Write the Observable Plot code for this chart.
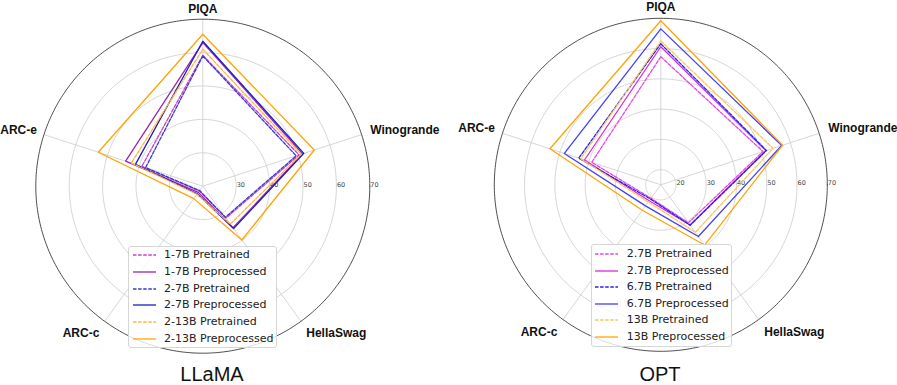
<!DOCTYPE html>
<html><head><meta charset="utf-8">
<script src="https://cdn.jsdelivr.net/npm/d3@7"></script>
<script src="https://cdn.jsdelivr.net/npm/@observablehq/plot@0.6"></script>
<style>
body{margin:0;background:#fff;}
#wrap{display:flex;width:897px;height:385px;overflow:hidden;}
.panel{position:relative;height:385px;}
.legend{position:absolute;background:rgba(255,255,255,0.8);border:1px solid #d6d6d6;border-radius:3px;box-sizing:border-box;font-family:"DejaVu Sans",sans-serif;font-size:11px;color:#222;}
.row{position:absolute;left:0;height:14px;line-height:14px;white-space:nowrap;}
.row svg{position:absolute;top:0;}
.row span{position:absolute;}
.title{position:absolute;top:364px;height:20px;line-height:20px;text-align:center;font-family:"Liberation Sans",Arial,sans-serif;font-size:20px;color:#111;}
</style></head>
<body><div id="wrap"></div>
<script>
// ---- data ----
const categories = ["PIQA", "Winogrande", "HellaSwag", "ARC-c", "ARC-e"];

const llamaSeries = ["1-7B Pretrained", "1-7B Preprocessed", "2-7B Pretrained", "2-7B Preprocessed", "2-13B Pretrained", "2-13B Preprocessed"];
const llama_1_7B_pretrained    = [59.2, 50.3, 31.8, 21.8, 39.2];
const llama_1_7B_preprocessed  = [63.0, 51.4, 35.4, 22.3, 44.3];
const llama_2_7B_pretrained    = [59.0, 49.4, 31.5, 21.6, 38.0];
const llama_2_7B_preprocessed  = [63.4, 51.8, 35.7, 22.8, 41.2];
const llama_2_13B_pretrained   = [61.0, 51.0, 34.0, 23.0, 42.5];
const llama_2_13B_preprocessed = [65.5, 55.1, 39.9, 24.6, 52.9];
const llamaTicks = [30, 40, 50, 60, 70];

const optSeries = ["2.7B Pretrained", "2.7B Preprocessed", "6.7B Pretrained", "6.7B Preprocessed", "13B Pretrained", "13B Preprocessed"];
const opt_2_7B_pretrained   = [57.3, 50.5, 30.5, 20.5, 39.0];
const opt_2_7B_preprocessed = [60.6, 51.5, 31.4, 21.5, 41.5];
const opt_6_7B_pretrained   = [61.6, 51.7, 31.5, 20.8, 43.5];
const opt_6_7B_preprocessed = [66.5, 57.0, 36.1, 23.6, 48.5];
const opt_13B_pretrained    = [62.5, 54.0, 34.4, 22.0, 42.8];
const opt_13B_preprocessed  = [69.2, 57.3, 39.6, 25.4, 53.5];
const optTicks = [20, 30, 40, 50, 60, 70];

const chartTitles = ["LLaMA", "OPT"];

// ---- drawing ----
function radar(cfg) {
  const {W, H, cx, cy, R, vmin, vmax, ticks, names, values, colors, dashes, legend, title} = cfg;
  const k = R / (vmax - vmin);
  const ang = i => (90 - 72 * i) * Math.PI / 180;
  const X = (v, i) => (v - vmin) * Math.cos(ang(i));
  const Y = (v, i) => (v - vmin) * Math.sin(ang(i));
  const rad = a => a * Math.PI / 180;
  const gridTicks = ticks.filter(t => t < vmax);
  const ringPts = gridTicks.flatMap(t => d3.range(0, 361, 2).map(a => ({t, a})));
  const outerPts = d3.range(0, 361, 1).map(a => ({t: vmax, a}));
  const idx = categories.map((c, i) => i);
  const labelR = (vmax - vmin) * (176 / R);

  const marks = [
    Plot.line(ringPts, {x: d => (d.t - vmin) * Math.cos(rad(d.a)), y: d => (d.t - vmin) * Math.sin(rad(d.a)), z: "t", stroke: "#cccccc", strokeWidth: 0.8}),
    Plot.link(idx, {x1: 0, y1: 0, x2: i => X(vmax, i), y2: i => Y(vmax, i), stroke: "#cccccc", strokeWidth: 0.8}),
    Plot.line(outerPts, {x: d => (d.t - vmin) * Math.cos(rad(d.a)), y: d => (d.t - vmin) * Math.sin(rad(d.a)), stroke: "#222", strokeWidth: 0.8}),
    Plot.text(ticks, {x: t => t - vmin, y: 0, text: t => String(t), textAnchor: "start", lineAnchor: "bottom", dx: 0.5, dy: 0.5, fontSize: 6.5, fill: "#444", fontFamily: "DejaVu Sans"})
  ];
  names.forEach((n, s) => {
    const pts = values[s].map((v, i) => ({v, i}));
    marks.push(Plot.line(pts, {x: d => X(d.v, d.i), y: d => Y(d.v, d.i), curve: "linear-closed", stroke: colors[s], strokeWidth: 1.3, strokeDasharray: dashes[s] ? "3.5,1.6" : null}));
  });
  const lab = (filter, textAnchor, lineAnchor, dy, dx) => Plot.text(idx.filter(filter), {
    x: i => labelR * Math.cos(ang(i)), y: i => labelR * Math.sin(ang(i)), text: i => categories[i],
    textAnchor, lineAnchor, dy, dx, fontSize: 12, fontWeight: "bold", fill: "#111", fontFamily: "Liberation Sans"});
  marks.push(lab(i => Math.abs(Math.cos(ang(i))) < 0.1, "middle", "bottom", 2.5, 0));
  marks.push(lab(i => Math.cos(ang(i)) > 0.1 && Math.sin(ang(i)) > -0.5, "start", "middle", -2, 0));
  marks.push(lab(i => Math.cos(ang(i)) < -0.1 && Math.sin(ang(i)) > -0.5, "end", "middle", -2, 1.5));
  marks.push(lab(i => Math.cos(ang(i)) > 0.1 && Math.sin(ang(i)) < -0.5, "start", "top", 0, 0));
  marks.push(lab(i => Math.cos(ang(i)) < -0.1 && Math.sin(ang(i)) < -0.5, "end", "top", 0, 0));

  const svg = Plot.plot({
    width: W, height: H, margin: 0,
    x: {domain: [-cx / k, (W - cx) / k], range: [0, W], axis: null},
    y: {domain: [-(H - cy) / k, cy / k], range: [H, 0], axis: null},
    style: {background: "transparent", overflow: "visible"},
    marks
  });

  const panel = document.createElement("div");
  panel.className = "panel";
  panel.style.width = W + "px";
  panel.appendChild(svg);
  svg.style.position = "absolute"; svg.style.left = "0"; svg.style.top = "0";

  const lg = document.createElement("div");
  lg.className = "legend";
  Object.assign(lg.style, {left: legend.left + "px", top: legend.top + "px", width: legend.w + "px", height: legend.h + "px"});
  names.forEach((n, s) => {
    const row = document.createElement("div");
    row.className = "row";
    row.style.top = (legend.first + s * legend.step - 7) + "px";
    row.style.width = "100%";
    row.innerHTML = `<svg width="30" height="14" style="left:${legend.lx}px"><line x1="0" x2="${legend.lw}" y1="7" y2="7" stroke="${colors[s]}" stroke-width="1.3" ${dashes[s] ? 'stroke-dasharray="3.5,1.6"' : ''}/></svg><span style="left:${legend.tx}px">${n}</span>`;
    lg.appendChild(row);
  });
  panel.appendChild(lg);

  const t = document.createElement("div");
  t.className = "title";
  t.style.left = (cfg.tcx - 100) + "px";
  t.style.width = "200px";
  t.textContent = title;
  panel.appendChild(t);
  return panel;
}

const dashes = [true, false, true, false, true, false];
const wrap = document.getElementById("wrap");
wrap.appendChild(radar({
  W: 448, H: 355, cx: 202.3, cy: 185.7, R: 167, vmin: 20, vmax: 70, ticks: llamaTicks,
  names: llamaSeries,
  values: [llama_1_7B_pretrained, llama_1_7B_preprocessed, llama_2_7B_pretrained, llama_2_7B_preprocessed, llama_2_13B_pretrained, llama_2_13B_preprocessed],
  colors: ["#cc3fcc", "#9a24b4", "#3a3acc", "#1c1cc8", "#ffb640", "#ffa500"],
  dashes,
  legend: {left: 128, top: 246, w: 149, h: 102, first: 8.3, step: 16.7, lx: 4, lw: 23, tx: 35},
  title: chartTitles[0], tcx: 212
}));
wrap.appendChild(radar({
  W: 449, H: 355, cx: 212.3, cy: 184.3, R: 166.5, vmin: 15, vmax: 70, ticks: optTicks,
  names: optSeries,
  values: [opt_2_7B_pretrained, opt_2_7B_preprocessed, opt_6_7B_pretrained, opt_6_7B_preprocessed, opt_13B_pretrained, opt_13B_preprocessed],
  colors: ["#e04ae0", "#d92ad9", "#2222f0", "#4040ff", "#ffc45a", "#ffa500"],
  dashes,
  legend: {left: 142.7, top: 244, w: 141, h: 103, first: 9, step: 16.6, lx: 3.3, lw: 23, tx: 35},
  title: chartTitles[1], tcx: 212
}));
</script>
</body></html>
